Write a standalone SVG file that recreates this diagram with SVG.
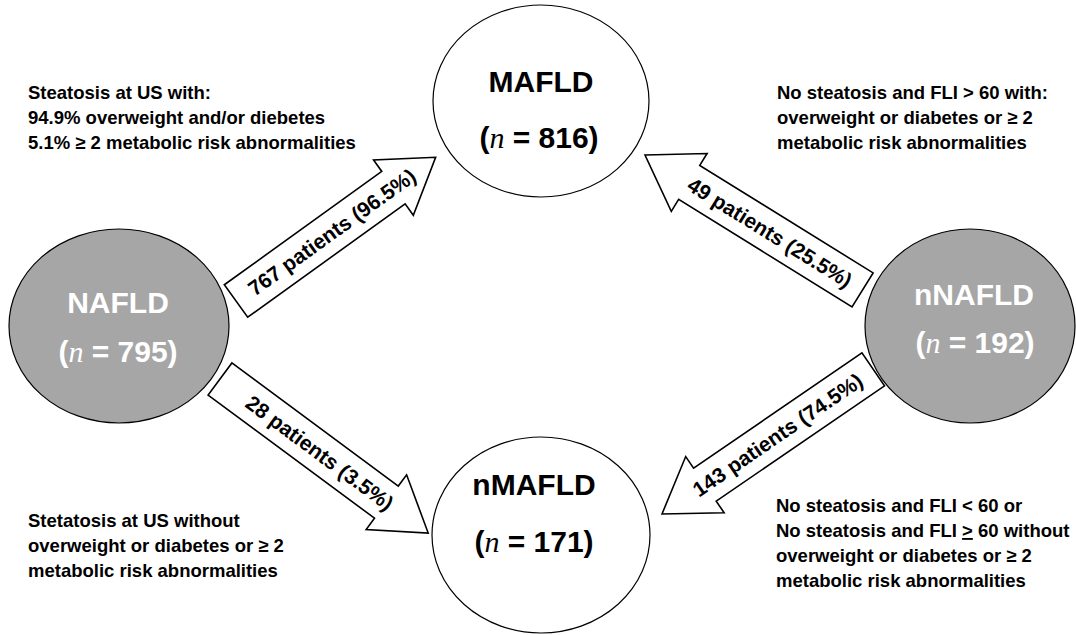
<svg xmlns="http://www.w3.org/2000/svg" width="1076" height="635" viewBox="0 0 1076 635">
<style>
  .txt { font-family: "Liberation Sans", Arial, sans-serif; font-weight: bold; font-size: 18.5px; fill: #000; }
  .ttl { font-family: "Liberation Sans", Arial, sans-serif; font-weight: bold; font-size: 30px; text-anchor: middle; }
  .nv { font-family: "Liberation Serif", "Times New Roman", serif; font-style: italic; font-weight: normal; }
  .lbl { font-family: "Liberation Sans", Arial, sans-serif; font-weight: bold; font-size: 21px; text-anchor: middle; fill: #000; }
  .white { fill: #ffffff; stroke: #000; stroke-width: 1.2; }
  .grey { fill: #a6a6a6; stroke: #000; stroke-width: 1.2; }
  .arrow { fill: #ffffff; stroke: #000; stroke-width: 1.6; stroke-linejoin: miter; }
</style>
<rect width="1076" height="635" fill="#ffffff"/>

<g id="connectors">
  <g id="arrow-nafld-mafld" transform="translate(236,301) rotate(-35.75)">
    <path class="arrow" d="M0,-20 H194 V-34 L246,0 L194,34 V20 H0 Z"/>
    <text class="lbl" x="118" y="7.5">767 patients (96.5%)</text>
  </g>
  <g id="arrow-nafld-nmafld" transform="translate(220,379) rotate(36.5)">
    <path class="arrow" d="M0,-20 H207 V-34 L259,0 L207,34 V20 H0 Z"/>
    <text class="lbl" x="124" y="7.5">28 patients (3.5%)</text>
  </g>
  <g id="arrow-nnafld-mafld" transform="translate(645,155) rotate(31.8)">
    <path class="arrow" d="M0,0 L52,-34 V-20 H256 V20 H52 V34 Z"/>
    <text class="lbl" x="147" y="7.5">49 patients (25.5%)</text>
  </g>
  <g id="arrow-nnafld-nmafld" transform="translate(662,514) rotate(-34.4)">
    <path class="arrow" d="M0,0 L52,-34 V-20 H256 V20 H52 V34 Z"/>
    <text class="lbl" x="140" y="7.5">143 patients (74.5%)</text>
  </g>
</g>

<g id="node-mafld">
  <ellipse class="white" cx="541" cy="101" rx="108" ry="96"/>
  <text class="ttl" x="541" y="92">MAFLD</text>
  <text class="ttl" x="539" y="148">(<tspan class="nv">n</tspan> = 816)</text>
</g>

<g id="node-nmafld">
  <ellipse class="white" cx="541" cy="535" rx="109" ry="98"/>
  <text class="ttl" x="534" y="495">nMAFLD</text>
  <text class="ttl" x="534" y="552">(<tspan class="nv">n</tspan> = 171)</text>
</g>

<g id="node-nafld">
  <ellipse class="grey" cx="119" cy="326" rx="110" ry="97"/>
  <text class="ttl" x="118" y="313" fill="#ffffff">NAFLD</text>
  <text class="ttl" x="118" y="362" fill="#ffffff">(<tspan class="nv">n</tspan> = 795)</text>
</g>

<g id="node-nnafld">
  <ellipse class="grey" cx="970" cy="326" rx="105" ry="97"/>
  <text class="ttl" x="974" y="305" fill="#ffffff">nNAFLD</text>
  <text class="ttl" x="975" y="353" fill="#ffffff">(<tspan class="nv">n</tspan> = 192)</text>
</g>

<g id="note-top-left">
  <text class="txt" x="28" y="99">Steatosis at US with:</text>
  <text class="txt" x="28" y="124">94.9% overweight and/or diebetes</text>
  <text class="txt" x="28" y="149">5.1% ≥ 2 metabolic risk abnormalities</text>
</g>

<g id="note-top-right">
  <text class="txt" x="777" y="99">No steatosis and FLI &gt; 60 with:</text>
  <text class="txt" x="777" y="124">overweight or diabetes or ≥ 2</text>
  <text class="txt" x="777" y="149">metabolic risk abnormalities</text>
</g>

<g id="note-bottom-left">
  <text class="txt" x="28" y="527">Stetatosis at US without</text>
  <text class="txt" x="28" y="552">overweight or diabetes or ≥ 2</text>
  <text class="txt" x="28" y="577">metabolic risk abnormalities</text>
</g>

<g id="note-bottom-right">
  <text class="txt" x="776" y="512">No steatosis and FLI &lt; 60 or</text>
  <text class="txt" x="776" y="537">No steatosis and FLI <tspan text-decoration="underline">&gt;</tspan> 60 without</text>
  <text class="txt" x="776" y="562">overweight or diabetes or ≥ 2</text>
  <text class="txt" x="776" y="587">metabolic risk abnormalities</text>
</g>
</svg>
